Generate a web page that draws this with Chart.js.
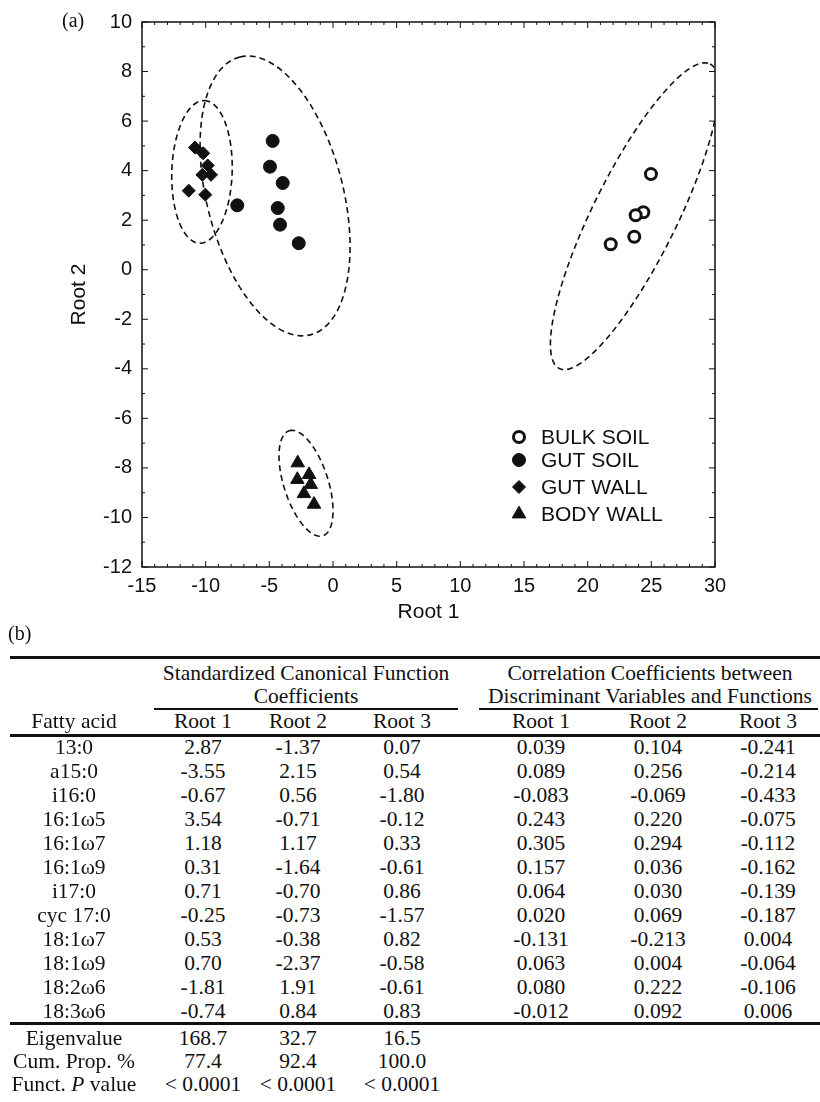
<!DOCTYPE html>
<html>
<head>
<meta charset="utf-8">
<script src="https://cdn.jsdelivr.net/npm/chart.js@4.4.1/dist/chart.umd.min.js"></script>
<style>
  html, body { margin: 0; padding: 0; background: #fff; }
  body { width: 820px; height: 1102px; position: relative; overflow: hidden;
         font-family: "Liberation Serif", "Times New Roman", serif; color: #111; }
  #chartBox { position: absolute; left: 0; top: 0; width: 820px; height: 640px; }
  .panel { position: absolute; font-size: 20px; line-height: 1; white-space: nowrap; }
  .cell { position: absolute; transform: translate(-50%, -50%); font-size: 21.5px;
          line-height: 1; white-space: nowrap; }
  .rule { position: absolute; background: #111; }
</style>
</head>
<body>
<div id="chartBox"><canvas id="rootChart" width="820" height="640"></canvas></div>
<div class="panel" style="left:62px; top:10px">(a)</div>
<div class="panel" style="left:8px; top:623px">(b)</div>
<div id="tableBox"></div>

<script>
// Scores on the first two discriminant roots
const bulkSoilX = [24.97, 24.37, 23.77, 23.66, 21.81];
const bulkSoilY = [3.86, 2.32, 2.20, 1.33, 1.03];
const gutSoilX = [-4.74, -4.95, -3.95, -7.52, -4.34, -4.16, -2.69];
const gutSoilY = [5.20, 4.16, 3.50, 2.60, 2.49, 1.82, 1.07];
const gutWallX = [-10.84, -10.19, -9.84, -10.26, -9.58, -11.33, -10.03];
const gutWallY = [4.93, 4.70, 4.21, 3.83, 3.83, 3.19, 3.03];
const bodyWallX = [-2.77, -2.80, -1.88, -1.75, -2.28, -1.49];
const bodyWallY = [-7.80, -8.47, -8.27, -8.67, -9.04, -9.47];

const groupNames = ['BULK SOIL', 'GUT SOIL', 'GUT WALL', 'BODY WALL'];

// Confidence ellipses: centre and two conjugate semi-diameters (root units)
const ellipseCenterX = [23.69, -4.55, -10.29, -2.12];
const ellipseCenterY = [2.16, 2.98, 3.95, -8.62];
const ellipseUX = [5.92, -2.77, 0.19, -1.32];
const ellipseUY = [6.15, 5.61, 2.88, 2.12];
const ellipseVX = [2.96, 5.20, 2.37, 1.66];
const ellipseVY = [-0.75, 0.67, -0.04, 0.27];

// Axis ticks
const root1Min = -15, root1Max = 30, root1Step = 5;
const root2Min = -12, root2Max = 10, root2Step = 2;

// Table (b)
const fattyAcids = ['13:0', 'a15:0', 'i16:0', '16:1\u03c95', '16:1\u03c97', '16:1\u03c99', 'i17:0',
  'cyc 17:0', '18:1\u03c97', '18:1\u03c99', '18:2\u03c96', '18:3\u03c96'];
const coefRoot1 = [2.87, -3.55, -0.67, 3.54, 1.18, 0.31, 0.71, -0.25, 0.53, 0.70, -1.81, -0.74];
const coefRoot2 = [-1.37, 2.15, 0.56, -0.71, 1.17, -1.64, -0.70, -0.73, -0.38, -2.37, 1.91, 0.84];
const coefRoot3 = [0.07, 0.54, -1.80, -0.12, 0.33, -0.61, 0.86, -1.57, 0.82, -0.58, -0.61, 0.83];
const corrRoot1 = [0.039, 0.089, -0.083, 0.243, 0.305, 0.157, 0.064, 0.020, -0.131, 0.063, 0.080, -0.012];
const corrRoot2 = [0.104, 0.256, -0.069, 0.220, 0.294, 0.036, 0.030, 0.069, -0.213, 0.004, 0.222, 0.092];
const corrRoot3 = [-0.241, -0.214, -0.433, -0.075, -0.112, -0.162, -0.139, -0.187, 0.004, -0.064, -0.106, 0.006];
const eigenvalues = [168.7, 32.7, 16.5];
const cumProp = [77.4, 92.4, 100.0];
const pValues = ['< 0.0001', '< 0.0001', '< 0.0001'];

const toPoints = (xs, ys) => xs.map((x, i) => ({ x, y: ys[i] }));

function ellipseOutline(i) {
  const pts = [];
  for (let k = 0; k <= 90; k++) {
    const t = k / 90 * 2 * Math.PI;
    pts.push({
      x: ellipseCenterX[i] + ellipseUX[i] * Math.cos(t) + ellipseVX[i] * Math.sin(t),
      y: ellipseCenterY[i] + ellipseUY[i] * Math.cos(t) + ellipseVY[i] * Math.sin(t)
    });
  }
  return pts;
}

const ink = '#111';
const sansFont = '"Liberation Sans", Arial, sans-serif';

const groupDatasets = [
  { label: groupNames[0], data: toPoints(bulkSoilX, bulkSoilY), pointStyle: 'circle',
    pointRadius: 5.5, pointBackgroundColor: '#fff', pointBorderColor: ink, pointBorderWidth: 3 },
  { label: groupNames[1], data: toPoints(gutSoilX, gutSoilY), pointStyle: 'circle',
    pointRadius: 6.5, pointBackgroundColor: ink, pointBorderColor: ink, pointBorderWidth: 1 },
  { label: groupNames[2], data: toPoints(gutWallX, gutWallY), pointStyle: 'rectRot',
    pointRadius: 6.5, pointBackgroundColor: ink, pointBorderColor: ink, pointBorderWidth: 1 },
  { label: groupNames[3], data: toPoints(bodyWallX, bodyWallY), pointStyle: 'triangle',
    pointRadius: 7.8, pointBackgroundColor: ink, pointBorderColor: ink, pointBorderWidth: 1 }
];

const ellipseDatasets = ellipseCenterX.map((c, i) => ({
  label: 'ellipse ' + (i + 1),
  data: ellipseOutline(i),
  showLine: true,
  pointRadius: 0,
  borderColor: ink,
  borderWidth: 1.6,
  borderDash: [6, 4],
  fill: false,
  tension: 0
}));

// Box with inward ticks on all four sides
const frameTicks = {
  id: 'frameTicks',
  afterDraw(chart) {
    const { ctx, chartArea: a, scales: { x, y } } = chart;
    ctx.save();
    ctx.strokeStyle = ink;
    ctx.lineWidth = 1.5;
    ctx.strokeRect(a.left, a.top, a.right - a.left, a.bottom - a.top);
    ctx.lineWidth = 1;
    ctx.beginPath();
    for (let v = root1Min; v <= root1Max; v++) {
      const px = x.getPixelForValue(v);
      const len = v % root1Step === 0 ? 6 : 3;
      ctx.moveTo(px, a.bottom); ctx.lineTo(px, a.bottom - len);
      ctx.moveTo(px, a.top); ctx.lineTo(px, a.top + len);
    }
    for (let v = root2Min; v <= root2Max; v++) {
      const py = y.getPixelForValue(v);
      const len = v % root2Step === 0 ? 6 : 3;
      ctx.moveTo(a.left, py); ctx.lineTo(a.left + len, py);
      ctx.moveTo(a.right, py); ctx.lineTo(a.right - len, py);
    }
    ctx.stroke();
    ctx.restore();
  }
};

// Legend drawn inside the plot area
const innerLegend = {
  id: 'innerLegend',
  afterDraw(chart, args, opts) {
    const { ctx, chartArea: a } = chart;
    ctx.save();
    ctx.font = '21px ' + sansFont;
    ctx.textBaseline = 'middle';
    groupDatasets.forEach((ds, i) => {
      const cy = a.top + opts.rows[i];
      const cx = a.left + opts.markerX;
      ctx.fillStyle = ds.pointBackgroundColor;
      ctx.strokeStyle = ds.pointBorderColor;
      ctx.lineWidth = ds.pointBorderWidth;
      Chart.helpers.drawPoint(ctx, {
        pointStyle: ds.pointStyle, radius: ds.pointRadius, rotation: 0, borderWidth: ds.pointBorderWidth
      }, cx, cy);
      ctx.fillStyle = ink;
      ctx.fillText(ds.label, a.left + opts.textX, cy + 1);
    });
    ctx.restore();
  }
};

new Chart(document.getElementById('rootChart'), {
  type: 'scatter',
  data: { datasets: [...groupDatasets, ...ellipseDatasets] },
  plugins: [frameTicks, innerLegend],
  options: {
    responsive: false,
    animation: false,
    devicePixelRatio: 1,
    layout: { padding: { left: 0, right: 105, top: 20, bottom: 0 } },
    plugins: {
      legend: { display: false },
      tooltip: { enabled: false },
      innerLegend: { markerX: 377, textX: 399, rows: [415, 438, 465, 492] }
    },
    scales: {
      x: {
        type: 'linear', min: root1Min, max: root1Max,
        grid: { display: false, drawTicks: false },
        border: { display: false },
        ticks: { stepSize: root1Step, padding: 7, color: ink, font: { family: sansFont, size: 20 } },
        title: { display: true, text: 'Root 1', color: ink, padding: { top: 0, bottom: 15 },
                 font: { family: sansFont, size: 21 } },
        afterFit: (scale) => { scale.height = 73; }
      },
      y: {
        type: 'linear', min: root2Min, max: root2Max,
        grid: { display: false, drawTicks: false },
        border: { display: false },
        ticks: { stepSize: root2Step, padding: 10, color: ink, font: { family: sansFont, size: 20 } },
        title: { display: true, text: 'Root 2', color: ink, padding: { top: 67, bottom: 0 },
                 font: { family: sansFont, size: 21 } },
        afterFit: (scale) => { scale.width = 142; }
      }
    }
  }
});

// ---- table (b) ----
const tableBox = document.getElementById('tableBox');
const colX = [74, 203, 298, 402, 541, 658, 768];

function addCell(text, x, y, html) {
  const d = document.createElement('div');
  d.className = 'cell';
  if (html) d.innerHTML = text; else d.textContent = text;
  d.style.left = x + 'px';
  d.style.top = y + 'px';
  tableBox.appendChild(d);
}
function addRule(x1, x2, y, h) {
  const d = document.createElement('div');
  d.className = 'rule';
  d.style.left = x1 + 'px';
  d.style.width = (x2 - x1) + 'px';
  d.style.top = y + 'px';
  d.style.height = h + 'px';
  tableBox.appendChild(d);
}

addRule(10, 820, 656, 3);
addCell('Standardized Canonical Function', 306, 674);
addCell('Coefficients', 306, 697);
addCell('Correlation Coefficients between', 650, 674);
addCell('Discriminant Variables and Functions', 650, 697);
addRule(154, 458, 708, 2);
addRule(479, 818, 708, 2);
addCell('Fatty acid', colX[0], 722);
['Root 1', 'Root 2', 'Root 3', 'Root 1', 'Root 2', 'Root 3'].forEach((t, i) => addCell(t, colX[i + 1], 722));
addRule(10, 820, 734, 3);

const rowTop = 748, rowStep = 24;
fattyAcids.forEach((fa, r) => {
  const y = rowTop + r * rowStep;
  addCell(fa, colX[0], y);
  addCell(coefRoot1[r].toFixed(2), colX[1], y);
  addCell(coefRoot2[r].toFixed(2), colX[2], y);
  addCell(coefRoot3[r].toFixed(2), colX[3], y);
  addCell(corrRoot1[r].toFixed(3), colX[4], y);
  addCell(corrRoot2[r].toFixed(3), colX[5], y);
  addCell(corrRoot3[r].toFixed(3), colX[6], y);
});
addRule(10, 820, 1022, 3);

const sumTop = 1039;
addCell('Eigenvalue', colX[0], sumTop);
addCell('Cum. Prop. %', colX[0], sumTop + 23);
addCell('Funct. <i>P</i> value', colX[0], sumTop + 46, true);
for (let k = 0; k < 3; k++) {
  addCell(eigenvalues[k].toFixed(1), colX[k + 1], sumTop);
  addCell(cumProp[k].toFixed(1), colX[k + 1], sumTop + 23);
  addCell(pValues[k], colX[k + 1], sumTop + 46);
}
</script>
</body>
</html>
